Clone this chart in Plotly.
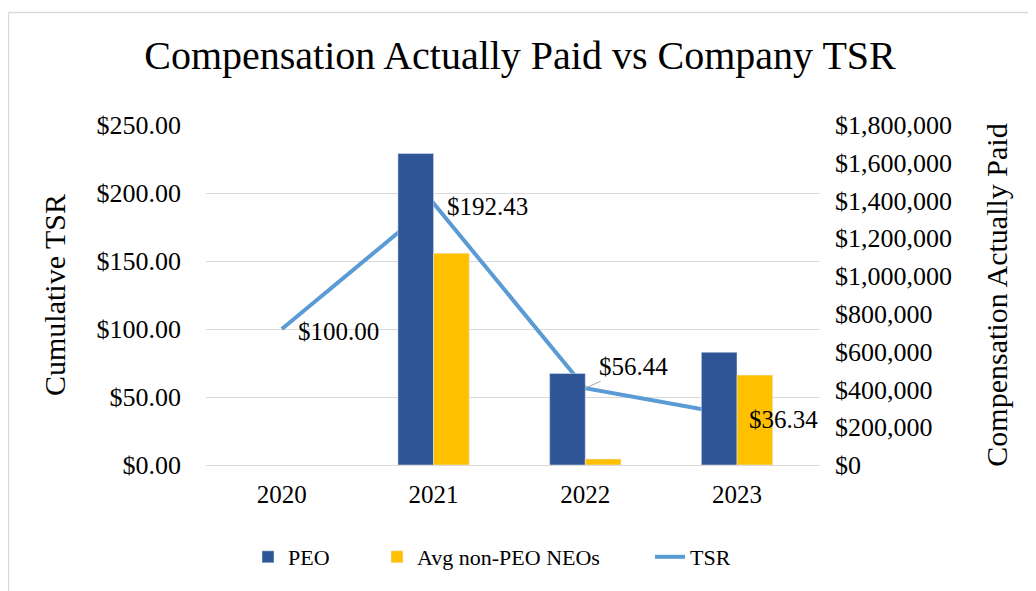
import plotly.graph_objects as go

years = ["2020", "2021", "2022", "2023"]
peo = [None, 1649000, 485000, 597000]
neo = [None, 1121000, 32000, 476000]
tsr = [100.00, 192.43, 56.44, 36.34]
tsr_labels = ["$100.00", "$192.43", "$56.44", "$36.34"]

left_ticks = [0, 50, 100, 150, 200, 250]
right_ticks = [0, 200000, 400000, 600000, 800000, 1000000, 1200000, 1400000, 1600000, 1800000]

FONT = "Liberation Serif"
PEO_C = "#2F5597"
NEO_C = "#FFC000"
TSR_C = "#5B9BD5"

# page body has an 8px margin; work in screen px and convert
OFF = 8
L, W, B, H = 206, 614, 465, 340
FW, FH = 1036 - OFF, 591 - OFF
def px(xp): return (xp - L) / W
def py(yp): return (B - yp) / H

fig = go.Figure()
fig.add_trace(go.Bar(x=years, y=peo, name="PEO", marker_color=PEO_C, yaxis="y2", legend="legend"))
fig.add_trace(go.Bar(x=years, y=neo, name="Avg non-PEO NEOs", marker_color=NEO_C, yaxis="y2", legend="legend2"))
fig.add_trace(go.Scatter(x=years, y=tsr, name="TSR", mode="lines",
                         line=dict(color=TSR_C, width=4), yaxis="y", legend="legend3"))

# data labels (x given as category index)
offsets = [(14, -2, False), (11, -3, False), (12, 22, True), (10, -4, False)]
for i, (v, lab) in enumerate(zip(tsr, tsr_labels)):
    dx, dy, arrow = offsets[i]
    if arrow:
        fig.add_annotation(x=i, y=v, xref="x", yref="y", text=lab, showarrow=True,
                           arrowhead=0, arrowwidth=1, arrowcolor="#A6A6A6", standoff=0,
                           ax=dx + 36, ay=-dy, xanchor="center", yanchor="middle",
                           font=dict(family=FONT, size=25, color="black"))
    else:
        fig.add_annotation(x=i, y=v, xref="x", yref="y", text=lab, showarrow=False,
                           xanchor="left", yanchor="middle", xshift=dx, yshift=dy,
                           font=dict(family=FONT, size=25, color="black"))

# outer border (top and left visible)
fig.add_shape(type="line", xref="paper", yref="paper", x0=px(8.5), x1=px(1045), y0=py(12.5), y1=py(12.5),
              line=dict(color="#D9D9D9", width=1.5))
fig.add_shape(type="line", xref="paper", yref="paper", x0=px(8.5), x1=px(8.5), y0=py(12.5), y1=py(600),
              line=dict(color="#D9D9D9", width=1.5))

leg_common = dict(orientation="h", xanchor="left", yanchor="middle", y=py(557),
                  font=dict(family=FONT, size=22, color="black"), bgcolor="rgba(0,0,0,0)")

fig.update_layout(
    width=FW, height=FH,
    margin=dict(l=L - OFF, r=FW - (L - OFF) - W, t=(B - H) - OFF, b=FH - (B - OFF), autoexpand=False),
    paper_bgcolor="white", plot_bgcolor="white",
    font=dict(family=FONT, color="black"),
    title=dict(text="Compensation Actually Paid vs Company TSR", x=px(520), xref="paper", xanchor="center",
               y=1 - (55 - OFF) / FH, yanchor="middle", font=dict(family=FONT, size=40, color="black")),
    barmode="group", bargap=0.53, bargroupgap=0,
    showlegend=True,
    legend=dict(x=px(293 - 45), **leg_common),
    legend2=dict(x=px(422 - 45), **leg_common),
    legend3=dict(x=px(695 - 45), **leg_common),
    xaxis=dict(type="category", showgrid=False, showline=True, linecolor="#D9D9D9", linewidth=1,
               automargin=False,
               tickfont=dict(family=FONT, size=25, color="black"), ticks="", ticklabelstandoff=7),
    yaxis=dict(range=[0, 250], tickvals=left_ticks, automargin=False,
               ticktext=["${:,.2f}".format(v) for v in left_ticks],
               showgrid=True, gridcolor="#D9D9D9", gridwidth=1, zeroline=False, showline=False,
               tickfont=dict(family=FONT, size=26, color="black"), ticklabelstandoff=24,
               title=dict(text="Cumulative TSR", font=dict(family=FONT, size=30, color="black"), standoff=22)),
    yaxis2=dict(range=[0, 1800000], tickvals=right_ticks, automargin=False,
                ticktext=["${:,.0f}".format(v) for v in right_ticks],
                overlaying="y", side="right", showgrid=False, zeroline=False, showline=False,
                tickfont=dict(family=FONT, size=26, color="black"), ticklabelstandoff=14,
                title=dict(text="Compensation Actually Paid", font=dict(family=FONT, size=30, color="black"), standoff=34)),
)

fig.write_html("out.html")
